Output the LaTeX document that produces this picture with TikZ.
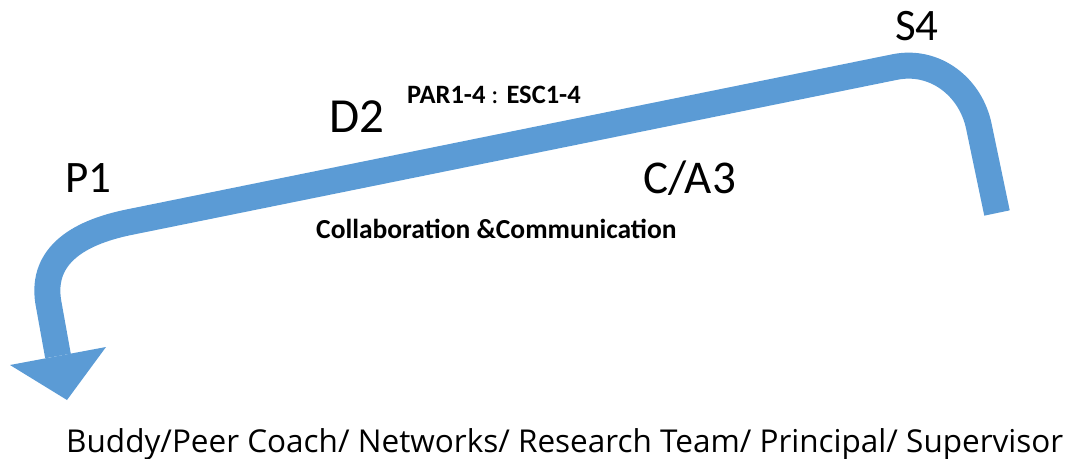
\documentclass[tikz,border=0pt]{standalone}
\usepackage{fontspec}
\setmainfont{Carlito}
\newfontfamily\bottomfont{Open Sans}
\definecolor{arrowblue}{HTML}{5B9BD5}
\begin{document}
\begin{tikzpicture}[x=1pt,y=-1pt,
  bigarrow/.style={line width=26pt,draw=arrowblue},
  stagelabel/.style={inner sep=0pt,anchor=base west,font=\fontsize{45}{54}\selectfont},
  boldlabel/.style={inner sep=0pt,anchor=base west,font=\bfseries\fontsize{26.5}{32}\selectfont},
  bottomlabel/.style={inner sep=0pt,anchor=base west,font=\bottomfont\fontsize{31.5}{38}\selectfont}]
\useasboundingbox (0,0) rectangle (1078,458);
% arrow path
\coordinate (start) at (997,213);
\coordinate (rtop) at (979,127);
\coordinate (ltop) at (895,67);
\coordinate (lbend) at (130,222);
\coordinate (ldown) at (49,306);
\coordinate (base) at (58,356);
\coordinate (wingL) at (10,365);
\coordinate (wingR) at (106,347);
\coordinate (tip) at (67,400);
\draw[bigarrow] (start) -- (rtop) .. controls (971,87) and (935,59) .. (ltop)
  -- (lbend) .. controls (75,233) and (39,258) .. (ldown) -- (base);
\fill[arrowblue] (wingL) -- (wingR) -- (tip) -- cycle;
% labels
\node[stagelabel] (p1) at (65,192) {P1};
\node[stagelabel,font=\fontsize{49}{58}\selectfont] (d2) at (329,132) {D2};
\node[stagelabel,font=\fontsize{47}{56}\selectfont] (ca3) at (643,193) {C/A3};
\node[stagelabel] (s4) at (895,40) {S4};
\node[boldlabel] (par) at (407,103) {PAR1-4 {\mdseries:} ESC1-4};
\node[boldlabel,font=\bfseries\fontsize{27.5}{33}\selectfont] (collab) at (316,238) {Collaboration \&Communication};
\node[bottomlabel] (team) at (66,452) {Buddy/Peer Coach/ Networks/ Research Team/ Principal/ Supervisor};
\end{tikzpicture}
\end{document}
